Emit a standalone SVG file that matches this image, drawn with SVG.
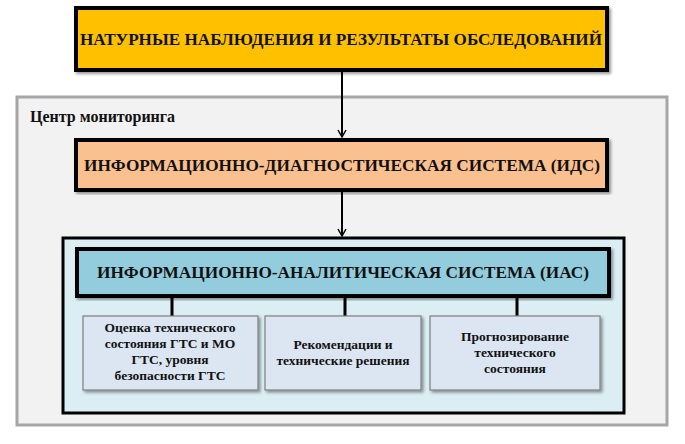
<svg xmlns="http://www.w3.org/2000/svg" width="685" height="444" viewBox="0 0 685 444" font-family="'Liberation Serif', 'DejaVu Serif', serif">
<defs>
<marker id="ah" markerWidth="10" markerHeight="10" refX="8" refY="5" orient="auto" markerUnits="userSpaceOnUse"><path d="M1,1 L8,5 L1,9" fill="none" stroke="#000" stroke-width="1.5"/></marker>
<filter id="sh"><feDropShadow dx="2" dy="2" stdDeviation="1.5" flood-opacity="0.4"/></filter>
</defs>
<style>
text{font-family:'Liberation Serif','DejaVu Serif',serif;font-weight:bold;fill:#111;text-anchor:middle}
.big{font-size:17px}
.sm{font-size:13.5px}
.sub{fill:#dce6f2;stroke:#7f7f7f;stroke-width:1.2}
</style>
<rect x="0" y="0" width="685" height="444" fill="#fff"/>
<g id="center"><rect x="17" y="97" width="650" height="328" fill="#f2f2f2" stroke="#a6a6a6" stroke-width="3"/>
<text x="30" y="122" style="text-anchor:start;font-size:16px">Центр мониторинга</text></g>
<g id="top"><rect x="76" y="8" width="531" height="62" fill="#ffc000" stroke="#000" stroke-width="4" filter="url(#sh)"/>
<text class="big" x="341" y="45" textLength="522" lengthAdjust="spacingAndGlyphs">НАТУРНЫЕ НАБЛЮДЕНИЯ И РЕЗУЛЬТАТЫ ОБСЛЕДОВАНИЙ</text></g>
<g id="ids"><rect x="76" y="140" width="531" height="50" fill="#fac090" stroke="#000" stroke-width="4" filter="url(#sh)"/>
<text class="big" x="342" y="171" textLength="516" lengthAdjust="spacingAndGlyphs">ИНФОРМАЦИОННО-ДИАГНОСТИЧЕСКАЯ СИСТЕМА (ИДС)</text></g>
<g id="iasframe"><rect x="63" y="238" width="561" height="175" fill="#daeef3" stroke="#000" stroke-width="3"/></g>
<g id="ias"><rect x="77" y="249" width="532" height="47" fill="#93cddd" stroke="#000" stroke-width="4" filter="url(#sh)"/>
<text class="big" x="343" y="278" textLength="492" lengthAdjust="spacingAndGlyphs">ИНФОРМАЦИОННО-АНАЛИТИЧЕСКАЯ СИСТЕМА (ИАС)</text></g>
<g id="connectors" stroke="#000" fill="none">
<line x1="342" y1="70" x2="342" y2="137" stroke-width="2" marker-end="url(#ah)"/>
<line x1="342" y1="192" x2="342" y2="236" stroke-width="2" marker-end="url(#ah)"/>
<line x1="172" y1="296" x2="172" y2="316" stroke-width="3"/>
<line x1="345" y1="296" x2="345" y2="316" stroke-width="3"/>
<line x1="517" y1="296" x2="517" y2="316" stroke-width="3"/>
</g>
<g id="n1"><rect class="sub" x="83" y="316" width="175" height="74" filter="url(#sh)"/>
<text class="sm" x="170" y="332">Оценка технического</text><text class="sm" x="170" y="348">состояния ГТС и МО</text><text class="sm" x="170" y="364">ГТС, уровня</text><text class="sm" x="170" y="380">безопасности ГТС</text></g>
<g id="n2"><rect class="sub" x="265" y="316" width="156" height="74" filter="url(#sh)"/>
<text class="sm" x="343" y="349">Рекомендации и</text><text class="sm" x="343" y="365">технические решения</text></g>
<g id="n3"><rect class="sub" x="430" y="316" width="170" height="74" filter="url(#sh)"/>
<text class="sm" x="515" y="341">Прогнозирование</text><text class="sm" x="515" y="357">технического</text><text class="sm" x="515" y="373">состояния</text></g>
</svg>
